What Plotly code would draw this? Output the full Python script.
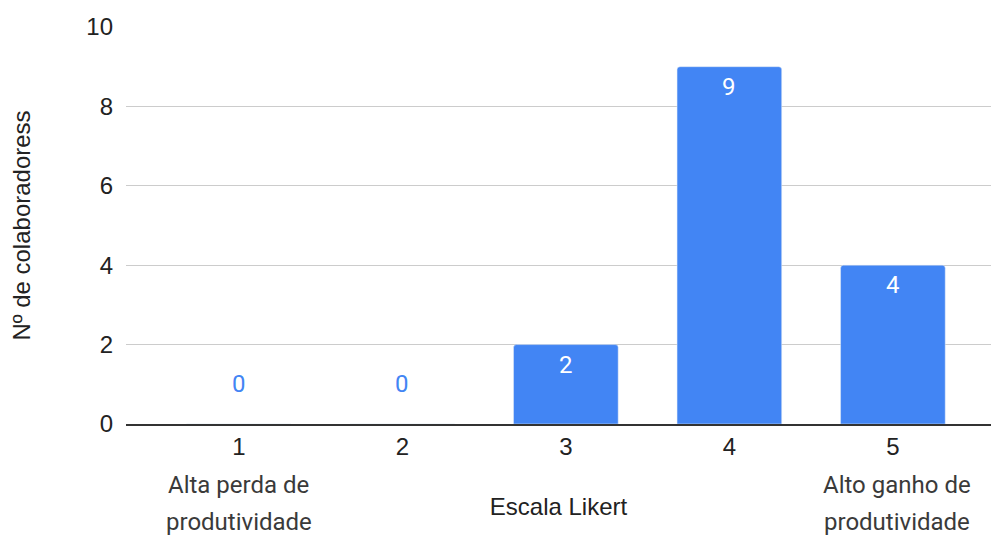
import plotly.graph_objects as go

# Likert scale survey results
categories = ["1", "2", "3", "4", "5"]
counts = [0, 0, 2, 9, 4]
scale_ends = {"1": ["Alta perda de", "produtividade"], "5": ["Alto ganho de", "produtividade"]}
y_ticks = [0, 2, 4, 6, 8, 10]

BAR = "#4285f4"
FS = 24

fig = go.Figure(
    go.Bar(
        x=categories,
        y=counts,
        marker=dict(color=BAR, cornerradius=3),
        width=0.64,
        hoverinfo="x+y",
    )
)

annotations = []
# value labels: white inside the top of non-zero bars, blue above the baseline for zeros
for i, val in enumerate(counts):
    if val > 0:
        annotations.append(dict(
            x=i, y=val, xref="x", yref="y", text=str(val), showarrow=False,
            yanchor="middle", yshift=-20,
            font=dict(family="Roboto", size=FS, color="white"),
        ))
    else:
        annotations.append(dict(
            x=i, y=0, xref="x", yref="y", text=str(val), showarrow=False,
            yanchor="middle", yshift=40,
            font=dict(family="Roboto", size=FS, color=BAR),
        ))

# descriptive captions under the extreme points of the scale, one line each
for cat, lines in scale_ends.items():
    i = categories.index(cat)
    for k, line in enumerate(lines):
        annotations.append(dict(
            x=i, y=0, xref="x", yref="y", text=line, showarrow=False,
            yanchor="middle", yshift=-61 - 37 * k, xshift=4 if cat == "5" else 0,
            font=dict(family="Roboto", size=FS, color="#3a3a3a"),
        ))

fig.update_layout(
    width=991,
    height=535,
    margin=dict(l=126, r=0, t=27, b=111),
    paper_bgcolor="white",
    plot_bgcolor="white",
    showlegend=False,
    font=dict(family="Liberation Sans, Arial, sans-serif", size=FS, color="#222222"),
    annotations=annotations,
    xaxis=dict(
        type="category",
        categoryorder="array",
        categoryarray=categories,
        range=[-0.69, 4.60],
        showgrid=False,
        showline=True,
        linecolor="#333333",
        linewidth=1.5,
        ticks="",
        tickfont=dict(size=FS, color="#222222"),
        title=dict(text="Escala Likert", font=dict(size=FS, color="#222222"), standoff=40),
    ),
    yaxis=dict(
        range=[0, 10],
        tickvals=y_ticks,
        showgrid=True,
        gridcolor="#cccccc",
        gridwidth=1.3,
        zeroline=False,
        showline=False,
        ticks="",
        ticklabelstandoff=12,
        tickfont=dict(size=FS, color="#222222"),
        title=dict(text="Nº de colaboradoress", font=dict(size=FS, color="#222222"), standoff=48),
    ),
    bargap=0.36,
)

fig.write_html("out.html")
